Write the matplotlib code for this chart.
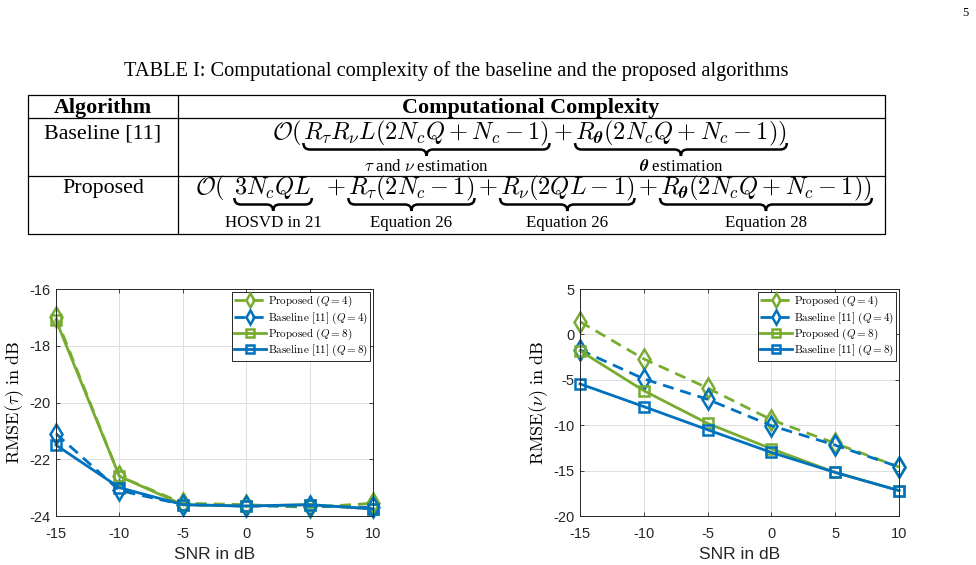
import numpy as np
import matplotlib
matplotlib.use('Agg')
import matplotlib.pyplot as plt
from matplotlib.path import Path
from matplotlib.patches import PathPatch, Rectangle
from matplotlib.lines import Line2D

plt.rcParams['mathtext.fontset'] = 'cm'
plt.rcParams['axes.unicode_minus'] = False

# data
snr = [-15, -10, -5, 0, 5, 10]
tau_prop_q4 = [-17.0, -22.6, -23.55, -23.6, -23.7, -23.55]
tau_base_q4 = [-21.1, -23.1, -23.6, -23.65, -23.65, -23.7]
tau_prop_q8 = [-17.1, -22.6, -23.6, -23.65, -23.6, -23.75]
tau_base_q8 = [-21.5, -23.0, -23.6, -23.65, -23.6, -23.75]
nu_prop_q4 = [1.4, -2.7, -5.9, -9.4, -12.0, -14.6]
nu_base_q4 = [-1.7, -4.9, -7.15, -10.05, -12.2, -14.6]
nu_prop_q8 = [-1.8, -6.2, -9.8, -12.6, -15.2, -17.2]
nu_base_q8 = [-5.45, -7.95, -10.5, -13.0, -15.2, -17.2]

labels = [r'$\mathrm{Proposed}\ (Q=4)$', r'$\mathrm{Baseline\ [11]}\ (Q=4)$',
          r'$\mathrm{Proposed}\ (Q=8)$', r'$\mathrm{Baseline\ [11]}\ (Q=8)$']

green = '#77AC30'
blue = '#0072BD'
styles = [dict(color=green, ls=(0, (4, 2.5)), marker='d', ms=10),
          dict(color=blue, ls=(0, (4, 2.5)), marker='d', ms=10),
          dict(color=green, ls='-', marker='s', ms=7.5),
          dict(color=blue, ls='-', marker='s', ms=7.5)]

W, H = 976, 565
fig = plt.figure(figsize=(W / 100, H / 100), dpi=100)


def fx(x):
    return x / W


def fy(y):
    return 1 - y / H


serif = 'Liberation Serif'

# ---- table ----
fig.text(fx(965), fy(16), '5', ha='center', va='baseline', size=9, family=serif)
fig.text(fx(456), fy(76), 'TABLE I: Computational complexity of the baseline and the proposed algorithms',
         ha='center', va='baseline', size=14.7, family=serif)

fig.add_artist(Rectangle((fx(28), fy(234)), fx(885) - fx(28), fy(95) - fy(234),
                         transform=fig.transFigure, fill=False, lw=0.9, ec='k'))
for yy in [118, 176]:
    fig.add_artist(Line2D([fx(28), fx(885)], [fy(yy), fy(yy)], transform=fig.transFigure, color='k', lw=0.9))
fig.add_artist(Line2D([fx(178), fx(178)], [fy(95), fy(234)], transform=fig.transFigure, color='k', lw=0.9))

fig.text(fx(103), fy(113), 'Algorithm', ha='center', va='baseline', size=15.8, weight='bold', family=serif)
fig.text(fx(531), fy(113), 'Computational Complexity', ha='center', va='baseline', size=15.8,
         weight='bold', family=serif)
fig.text(fx(103), fy(139), 'Baseline [11]', ha='center', va='baseline', size=15.8, family=serif)
fig.text(fx(103), fy(193), 'Proposed', ha='center', va='baseline', size=15.8, family=serif)

renderer = fig.canvas.get_renderer()


def layout(pieces, gaps, x0, ybase, size=17.5):
    x = x0
    ext = []
    for p, g in zip(pieces, gaps):
        x += g
        t = fig.text(fx(x), fy(ybase), p, ha='left', va='baseline', size=size)
        bb = t.get_window_extent(renderer)
        ext.append((bb.x0, bb.x1))
        x = bb.x1
    return ext


def brace(x0, x1, ytop, h):
    xm = (x0 + x1) / 2
    r = h / 2
    pts = [(x0, ytop), (x0, ytop + r), (x0 + r, ytop + r), (xm - r, ytop + r), (xm, ytop + r),
           (xm, ytop + h), (xm, ytop + r), (xm + r, ytop + r), (x1 - r, ytop + r), (x1, ytop + r),
           (x1, ytop)]
    codes = [Path.MOVETO, Path.CURVE3, Path.CURVE3, Path.LINETO, Path.CURVE3, Path.CURVE3,
             Path.CURVE3, Path.CURVE3, Path.LINETO, Path.CURVE3, Path.CURVE3]
    fig.add_artist(PathPatch(Path([(fx(a), fy(b)) for a, b in pts], codes),
                             transform=fig.transFigure, fill=False, lw=1.8, ec='k'))


def brace_label(x0, x1, ybase, txt):
    fig.text(fx((x0 + x1) / 2), fy(ybase), txt, ha='center', va='baseline', size=12.2, family=serif)


theta = r'R_{\boldsymbol{\theta}}'
base_pieces = [r'$\mathcal{O}($', r'$R_\tau R_\nu L(2N_cQ+N_c-1)$', r'$+$',
               r'$' + theta + r'(2N_cQ+N_c-1))$']
ext = layout(base_pieces, [0, 2, 3, 3], 272, 139)
brace(ext[1][0], ext[1][1], 143, 13)
brace(ext[3][0], ext[3][1], 143, 13)
brace_label(*ext[1], 171, r'$\tau$ and $\nu$ estimation')
brace_label(*ext[3], 171, r'$\boldsymbol{\theta}$ estimation')

prop_pieces = [r'$\mathcal{O}($', r'$3N_cQL$', r'$+$', r'$R_\tau(2N_c-1)$', r'$+$',
               r'$R_\nu(2QL-1)$', r'$+$', r'$' + theta + r'(2N_cQ+N_c-1))$']
ext = layout(prop_pieces, [0, 10, 14, 3, 3, 3, 3, 3], 195, 194)
for k, lab in zip([1, 3, 5, 7], ['HOSVD in 21', 'Equation 26', 'Equation 26', 'Equation 28']):
    brace(ext[k][0], ext[k][1], 198, 13)
    brace_label(*ext[k], 227, lab)

# ---- plots ----
ax1 = fig.add_axes([fx(56), fy(516), 317 / W, 227 / H])
ax2 = fig.add_axes([fx(580), fy(516), 319 / W, 227 / H])

for ax, series in [(ax1, [tau_prop_q4, tau_base_q4, tau_prop_q8, tau_base_q8]),
                   (ax2, [nu_prop_q4, nu_base_q4, nu_prop_q8, nu_base_q8])]:
    for vals, st, lab in zip(series, styles, labels):
        ax.plot(snr, vals, color=st['color'], ls=st['ls'], lw=2, marker=st['marker'], ms=st['ms'],
                mfc='none', mew=1.8, label=lab, clip_on=False)
    ax.set_xlim(-15, 10)
    ax.set_xticks(snr)
    ax.grid(True, color='#dedede', lw=0.7)
    ax.set_axisbelow(True)
    ax.tick_params(direction='in', length=3, width=0.6, top=True, right=True, labelsize=10.5,
                   colors='#262626')
    ax.tick_params(axis='x', pad=8)
    ax.tick_params(axis='y', pad=4)
    for lbl in ax.get_xticklabels() + ax.get_yticklabels():
        lbl.set_family('Liberation Sans')
    for sp in ax.spines.values():
        sp.set_color('#262626')
        sp.set_linewidth(0.7)
    ax.set_xlabel('SNR in dB', family='Liberation Sans', size=12.5, color='#262626', labelpad=4)
    leg = ax.legend(loc='upper right', fontsize=8, fancybox=False, edgecolor='#262626', framealpha=1,
                    borderaxespad=0.25, handlelength=2.8, labelspacing=0.1, borderpad=0.2,
                    handletextpad=0.2, markerscale=0.7)
    leg.get_frame().set_linewidth(0.7)

ax1.set_ylim(-24, -16)
ax1.set_yticks([-24, -22, -20, -18, -16])
ax1.set_ylabel(r'$\mathrm{RMSE}(\tau)\ \mathrm{in\ dB}$', size=13, labelpad=2)
ax2.set_ylim(-20, 5)
ax2.set_yticks([-20, -15, -10, -5, 0, 5])
ax2.set_ylabel(r'$\mathrm{RMSE}(\nu)\ \mathrm{in\ dB}$', size=13, labelpad=2)

fig.savefig('out.png', dpi=100)
